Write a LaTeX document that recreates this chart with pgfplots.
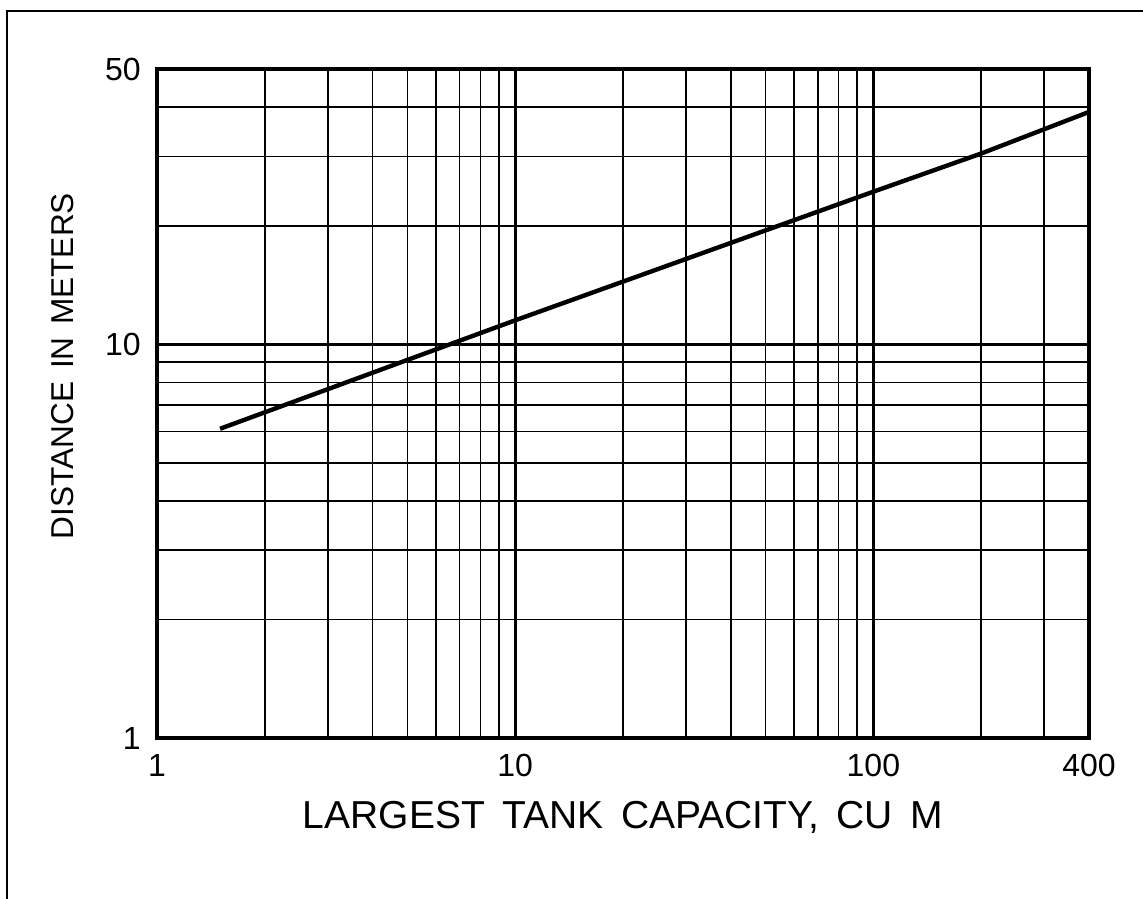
\documentclass[border=0pt]{standalone}
\usepackage{fontspec}
\setmainfont{Liberation Sans}
\usepackage{pgfplots}
\pgfplotsset{compat=1.18}
\begin{document}
\begin{tikzpicture}
\path[use as bounding box] (0,0) rectangle (571.5bp,449.5bp);
\draw[line width=1bp] (3.5bp,0) -- (3.5bp,444bp) -- (571.5bp,444bp);
\begin{axis}[
  at={(78.5bp,80.5bp)}, anchor=south west,
  scale only axis, width=466bp, height=334.5bp,
  xmode=log, ymode=log,
  xmin=1, xmax=400, ymin=1, ymax=50,
  xtick={1,10,100,400}, xticklabels={1,10,100,400},
  ytick={1,10,50}, yticklabels={1,10,50},
  minor xtick={2,3,4,5,6,7,8,9,20,30,40,50,60,70,80,90,200,300},
  minor ytick={2,3,4,5,6,7,8,9,20,30,40},
  grid=both,
  major grid style={black, line width=1.4bp},
  minor grid style={black, line width=0.8bp},
  major tick length=0pt, minor tick length=0pt,
  axis line style={line width=2bp},
  tick label style={font=\fontsize{16bp}{19bp}\selectfont},
  xticklabel style={anchor=base, inner sep=0pt, yshift=-19.5bp},
  yticklabel style={anchor=east, inner sep=0pt, xshift=-8bp},
  xlabel={LARGEST\hspace{0.45em}TANK\hspace{0.45em}CAPACITY,\hspace{0.45em}CU\hspace{0.45em}M},
  ylabel={DISTANCE\hspace{0.4em}IN\hspace{0.4em}METERS},
  xlabel style={at={(axis description cs:0.5,-0.136)}, anchor=base, inner sep=0pt, font=\fontsize{19.5bp}{23bp}\selectfont},
  ylabel style={at={(axis description cs:-0.0891,0.556)}, anchor=base, inner sep=0pt, rotate=0, font=\fontsize{15.8bp}{19bp}\selectfont},
]
\addplot[black, line width=2.2bp] coordinates {(1.5,6.1) (10,11.5) (100,24.4) (200,30.5) (400,38.9)};
\end{axis}
\end{tikzpicture}
\end{document}
